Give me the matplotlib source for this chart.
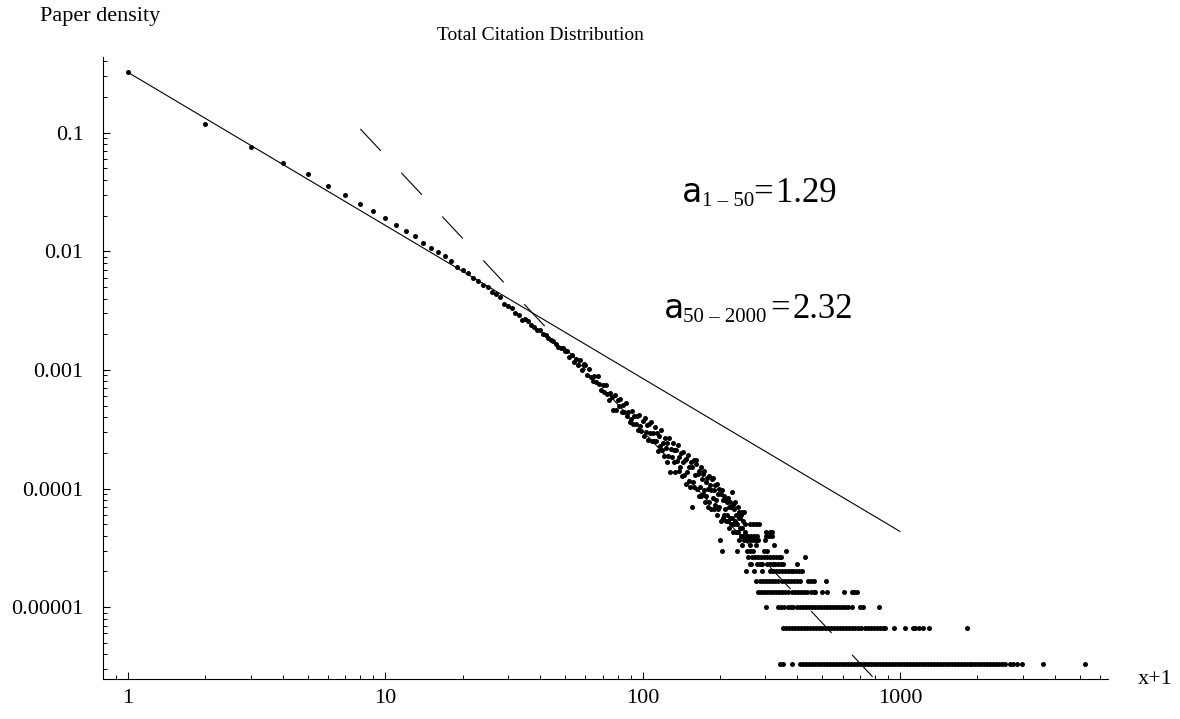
import matplotlib

matplotlib.use("Agg")
import matplotlib.pyplot as plt
import numpy as np
from matplotlib.ticker import FixedFormatter, FixedLocator, LogLocator, NullFormatter

plt.rcParams["font.family"] = ["Liberation Serif", "DejaVu Serif"]
plt.rcParams["lines.scale_dashes"] = False

# Total number of papers, used to turn counts into densities
N_PAPERS = 300000

# Paper counts for x+1 = 1 .. 250 (one value per citation count)
head_counts = [
    96900, 35400, 22800, 16740, 13380, 10710, 8940, 7530, 6520, 5730,
    5000, 4430, 4040, 3500, 3215, 2940, 2740, 2480, 2220, 2100,
    1960, 1775, 1685, 1550, 1490, 1370, 1310, 1240, 1080, 1040,
    1000, 905, 880, 790, 800, 770, 720, 694, 650, 655,
    600, 590, 553, 540, 528, 500, 468, 460, 456, 430,
    435, 385, 400, 353, 368, 328, 363, 301, 335, 330,
    272, 304, 264, 242, 266, 238, 265, 228, 204, 224,
    195, 224, 188, 169, 192, 176, 137, 184, 137, 166,
    149, 170, 133, 153, 132, 157, 122, 133, 110, 116,
    135, 106, 122, 105, 122, 93, 125, 102, 92, 112,
    84, 119, 90, 103, 77, 105, 88, 109, 76, 88,
    76, 99, 76, 89, 62, 83, 69, 93, 64, 73,
    57, 80, 66, 50, 73, 57, 80, 41, 65, 55,
    72, 50, 63, 41, 64, 51, 70, 42, 55, 46,
    60, 38, 50, 61, 39, 52, 33, 53, 41, 58,
    35, 46, 31, 50, 21, 46, 34, 52, 31, 39,
    48, 52, 30, 40, 26, 42, 31, 46, 26, 36,
    27, 40, 29, 42, 23, 34, 26, 37, 21, 30,
    38, 23, 32, 20, 29, 36, 25, 37, 20, 29,
    22, 32, 24, 33, 18, 27, 20, 30, 21, 11,
    16, 27, 9, 29, 17, 24, 18, 26, 20, 24,
    16, 23, 18, 25, 16, 21, 14, 23, 17, 21,
    15, 28, 17, 22, 13, 20, 15, 23, 16, 18,
    13, 9, 15, 21, 13, 17, 11, 19, 14, 17,
    12, 18, 14, 19, 12, 16, 11, 19, 13, 15,
]

# Tail: x+1 values that hold a given small paper count
x_count15 = [262, 268, 275, 283]
x_count13 = [303, 312, 318]
x_count12 = [252, 258, 265, 272, 279, 302, 310, 318]
x_count11 = [254, 261, 268, 276, 282, 300]
x_count10 = [244, 262, 276, 325]
x_count9 = [255, 262, 268, 296, 304, 360]
x_count8 = [258, 266, 273, 280, 288, 296, 304, 312, 321, 330, 338, 345, 428]
x_count7 = [261, 265, 278, 285, 290, 304, 312, 320, 328, 337, 345, 351, 400]
x_count6 = [253, 272, 292, 313, 321, 330, 339, 348, 357, 366, 376, 386, 396, 406, 416]
x_count5 = [277, 285, 293, 301, 310, 319, 328, 337, 347, 357, 367, 377, 388, 398, 409,
            438, 450, 462, 516]
x_count4 = [280, 288, 296, 304, 313, 321, 330, 340, 349, 359, 369, 380, 391, 402, 413,
            425, 437, 450, 462, 468, 500, 522, 606, 650, 665, 681]
x_count3 = [302, 335, 345, 355, 366, 376, 386, 397, 408, 419, 431, 443, 455, 468, 481,
            494, 508, 522, 536, 551, 566, 582, 598, 614, 631, 650, 700, 719, 830]
x_count2 = [351, 361, 371, 381, 391, 402, 413, 424, 436, 448, 460, 473, 486, 499, 513,
            527, 541, 556, 571, 587, 603, 620, 637, 654, 672, 690, 709, 729, 749, 769,
            790, 812, 834, 857, 875, 948, 1050, 1120, 1150, 1190, 1230, 1295, 1823]
x_count1 = [342, 352, 381, 409, 420, 431, 443, 455, 467, 480, 493, 506, 520, 534, 548,
            563, 578, 594, 610, 627, 644, 661, 679, 697, 716, 735, 755, 775, 796, 818,
            840, 862, 885, 909, 934, 959, 985, 1011, 1038, 1066, 1095, 1125, 1155, 1186,
            1218, 1251, 1285, 1320, 1355, 1392, 1430, 1468, 1508, 1548, 1590, 1633, 1677,
            1722, 1768, 1816, 1865, 1915, 1967, 2020, 2074, 2130, 2188, 2247, 2307, 2369,
            2433, 2499, 2560, 2680, 2760, 2850, 2983, 3600, 5240]

# Power-law fits: amplitude, exponent, x range
fit_low = (0.323, 1.29, 1, 1000)
fit_high = (13.4, 2.32, 8, 800)

x_ticks = [1, 10, 100, 1000]
x_tick_labels = ["1", "10", "100", "1000"]
y_ticks = [0.1, 0.01, 0.001, 0.0001, 0.00001]
y_tick_labels = ["0.1", "0.01", "0.001", "0.0001", "0.00001"]

W, H = 1180, 719


def fx(px):
    return px / W


def fy(py):
    return 1 - py / H


fig = plt.figure(figsize=(W / 100, H / 100), dpi=100)
ax = fig.add_axes([fx(103), fy(679), fx(1108) - fx(103), fy(57) - fy(679)])
ax.set_xscale("log")
ax.set_yscale("log")
ax.set_xlim(0.8, 6440)
ax.set_ylim(2.48e-6, 0.435)

# collect every point (x+1, count)
xs = list(np.arange(1, len(head_counts) + 1))
cs = list(head_counts)
for level, xl in [
    (15, x_count15), (13, x_count13), (12, x_count12), (11, x_count11), (10, x_count10),
    (9, x_count9), (8, x_count8), (7, x_count7), (6, x_count6), (5, x_count5),
    (4, x_count4), (3, x_count3), (2, x_count2), (1, x_count1),
]:
    xs += xl
    cs += [level] * len(xl)
xs = np.array(xs, dtype=float)
density = np.array(cs, dtype=float) / N_PAPERS

ax.plot(xs, density, "o", ms=3.6, mew=0, color="black", clip_on=False)

amp, expo, x0, x1 = fit_low
ax.plot([x0, x1], [amp * x0 ** -expo, amp * x1 ** -expo], color="black", lw=0.8)
amp, expo, x0, x1 = fit_high
ax.plot([x0, x1], [amp * x0 ** -expo, amp * x1 ** -expo], color="black", lw=0.8,
        dashes=(21.6, 21.6))

for side in ["top", "right"]:
    ax.spines[side].set_visible(False)
for side in ["left", "bottom"]:
    ax.spines[side].set_linewidth(0.8)

ax.xaxis.set_major_locator(FixedLocator(x_ticks))
ax.xaxis.set_major_formatter(FixedFormatter(x_tick_labels))
ax.yaxis.set_major_locator(FixedLocator(y_ticks))
ax.yaxis.set_major_formatter(FixedFormatter(y_tick_labels))
for axis in [ax.xaxis, ax.yaxis]:
    axis.set_minor_locator(LogLocator(base=10, subs=range(2, 10), numticks=30))
    axis.set_minor_formatter(NullFormatter())
ax.tick_params(which="major", direction="in", length=5, width=0.8, labelsize=16)
ax.tick_params(which="minor", direction="in", length=3, width=0.7)
ax.tick_params(axis="x", which="major", pad=7)
ax.tick_params(axis="y", which="major", pad=14)

fig.text(fx(40), fy(17), "Paper density", fontsize=16, ha="left", va="center")
fig.text(fx(540), fy(36), "Total Citation Distribution", fontsize=14, ha="center", va="center")
fig.text(fx(1138), fy(679), "x+1", fontsize=16, ha="left", va="center")

# exponent labels
fig.text(fx(682), fy(202), "a", fontsize=24, family="DejaVu Sans Mono", va="baseline")
fig.text(fx(702), fy(206), "1 \u2013 50", fontsize=15, va="baseline")
fig.text(fx(753), fy(202), "=", fontsize=25, va="baseline")
fig.text(fx(776), fy(202), "1.29", fontsize=25, va="baseline")

fig.text(fx(664), fy(318), "a", fontsize=24, family="DejaVu Sans Mono", va="baseline")
fig.text(fx(683), fy(322), "50 \u2013 2000", fontsize=15, va="baseline")
fig.text(fx(770), fy(318), "=", fontsize=25, va="baseline")
fig.text(fx(792), fy(318), "2.32", fontsize=25, va="baseline")

fig.savefig("out.png", dpi=100)
